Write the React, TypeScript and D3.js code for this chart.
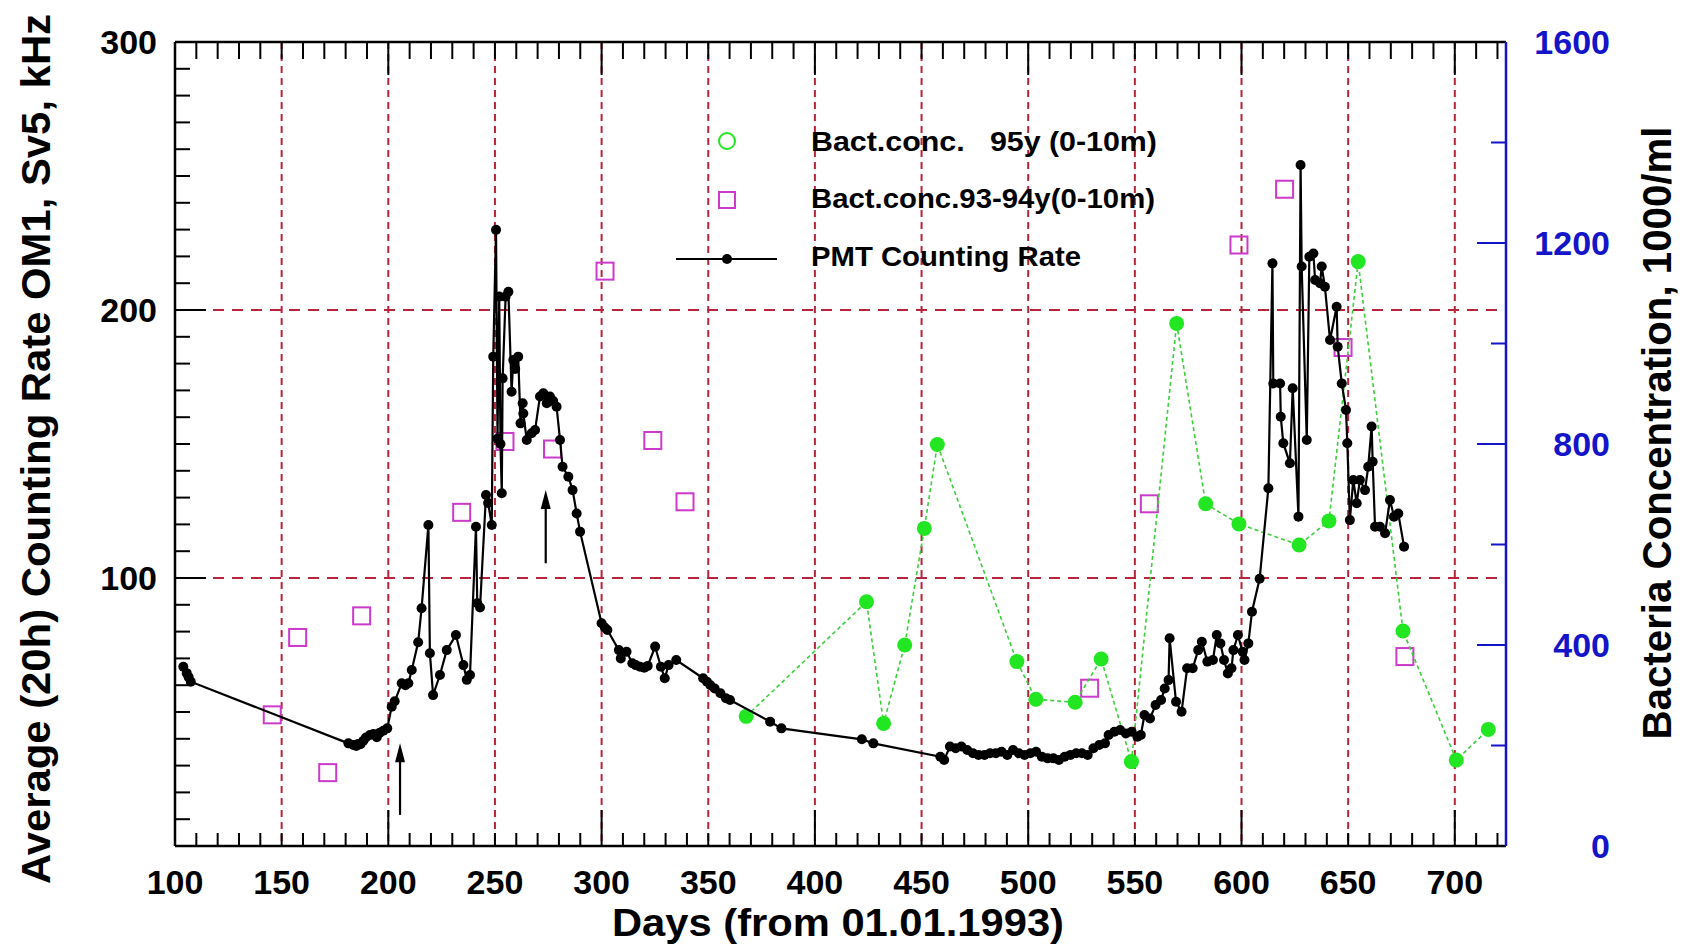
import React from 'react';
import * as d3 from 'd3';

// ---- PMT counting rate (kHz) vs day ----
const pmtDays = [
  103.9, 105.5, 106.4, 107.4,
  181.3, 183.6, 185.0, 185.9, 187.0, 188.3, 189.5, 191.4, 193.0, 194.6, 196.0, 197.7, 199.5,
  201.6, 203.0, 206.3, 208.0, 209.4, 211.0, 214.0, 215.6, 218.8, 219.5, 221.0, 224.2, 227.4, 231.7, 235.2, 236.8, 238.3, 241.1, 241.7, 243.0, 245.8, 246.8, 248.5,
  249.2, 250.5, 251.2, 252.0, 252.6, 253.2, 253.6, 255.0, 256.3, 257.8, 258.6, 259.5, 260.9, 262.0, 263.0, 263.3, 264.9, 267.2, 268.8, 271.1, 272.7, 274.3, 275.8, 277.3, 278.9, 280.5, 281.7, 284.4, 286.4, 288.3, 289.9,
  300.0, 301.5, 302.7, 308.1, 309.0, 311.7, 314.4, 316.0, 318.0, 320.0, 321.6, 325.1, 327.8, 329.6, 331.4, 335.0,
  347.6, 349.4, 351.0, 353.0, 355.7, 358.3, 360.2, 379.0, 384.3, 422.0, 427.4,
  458.8, 460.6, 463.3, 466.0, 468.7, 471.4, 474.1, 476.7, 479.5, 482.1, 484.8, 487.5, 490.2, 492.9, 495.6, 498.3, 501.0, 503.7, 506.4, 509.1, 511.8, 514.4, 517.1, 519.8, 522.5, 525.2, 527.9, 530.6, 533.3, 536.0, 537.7, 540.4, 543.1, 545.8, 548.5, 551.2,
  552.8, 554.5, 557.1, 559.7, 562.3, 564.0, 565.8, 566.3, 569.3, 571.9, 574.5, 577.1, 579.7, 581.4, 584.0, 586.6, 588.4, 590.1, 591.8, 593.6, 595.3, 596.2, 598.3, 600.5, 601.4, 603.2, 604.9, 608.5,
  612.6, 614.5, 614.9, 618.1, 618.4, 619.6, 622.7, 624.0, 626.7, 627.7, 628.2, 630.6, 631.8, 633.7, 634.5, 636.8, 637.6, 639.1, 641.5, 644.6, 645.1, 647.0, 649.0, 649.6, 650.8, 652.4, 654.0, 655.5, 657.9, 659.4, 661.0, 661.5, 662.6, 664.9, 667.3, 669.6, 671.5, 673.5, 676.2,
];
const pmtRate = [
  66.9, 64.5, 63.0, 61.3,
  38.3, 37.7, 37.3, 38.1, 38.0, 39.3, 40.5, 41.4, 41.8, 40.6, 42.3, 43.0, 43.9,
  52.0, 54.0, 60.7, 60.0, 60.7, 65.7, 76.0, 88.7, 119.8, 71.9, 56.3, 63.8, 73.1, 78.7, 67.5, 62.0, 63.8, 119.1, 90.6, 89.0, 131.0, 128.0, 119.8,
  182.6, 229.9, 152.0, 205.0, 150.0, 131.6, 174.5, 205.0, 206.8, 169.5, 181.3, 178.0, 182.6, 157.7, 165.2, 161.4, 151.5, 154.0, 155.2, 167.7, 168.9, 165.2, 167.7, 166.0, 163.9, 151.5, 141.5, 137.8, 132.8, 124.1, 117.3,
  83.1, 81.5, 80.6, 73.1, 70.0, 72.5, 68.2, 67.5, 66.9, 66.5, 67.2, 74.4, 66.9, 62.6, 67.5, 69.4,
  62.6, 61.3, 60.0, 58.8, 57.0, 55.1, 54.5, 46.4, 43.9, 39.8, 38.3,
  33.3, 32.1, 37.1, 36.5, 37.1, 35.8, 34.6, 34.0, 34.0, 34.6, 34.6, 35.2, 34.0, 35.8, 34.6, 34.0, 34.6, 35.2, 33.3, 32.7, 32.7, 32.1, 33.3, 34.0, 34.6, 34.6, 34.0, 36.5, 37.7, 38.3, 41.4, 42.6, 43.3, 42.0, 42.6, 40.8,
  41.4, 48.9, 47.6, 52.6, 54.5, 58.8, 61.9, 77.5, 53.8, 50.1, 66.3, 66.3, 73.1, 76.2, 68.8, 69.4, 78.7, 75.6, 69.4, 64.4, 66.3, 73.1, 78.7, 72.5, 69.4, 75.6, 87.4, 99.7,
  133.5, 217.4, 172.6, 172.6, 160.2, 150.3, 142.8, 170.8, 122.9, 254.1, 216.2, 151.5, 219.9, 221.1, 211.2, 210.0, 216.2, 208.7, 188.8, 201.2, 186.3, 172.6, 162.7, 150.3, 121.6, 136.6, 127.9, 136.6, 132.8, 141.5, 156.5, 143.4, 119.1, 119.1, 116.7, 129.1, 122.9, 124.1, 111.7,
];

// ---- Bacteria concentration 1995 (0-10 m), 1000/ml ----
const bact95Days = [367.8, 424.2, 432.2, 442.1, 451.3, 457.4, 494.7, 503.6, 522.0, 534.2, 548.4, 569.6, 583.2, 598.8, 627.0, 641.0, 654.7, 675.7, 700.7, 715.7];
const bact95Conc = [258, 486, 244, 400, 632, 799, 367, 292, 286, 372, 168, 1040, 681, 641, 599, 647, 1163, 428, 171, 232];

// ---- Bacteria concentration 1993-94 (0-10 m), 1000/ml ----
const bact9394Days = [145.6, 157.5, 171.6, 187.5, 234.4, 254.7, 277.0, 301.6, 324.0, 339.1, 528.8, 556.8, 598.8, 620.2, 647.6, 676.6];
const bact9394Conc = [261, 415, 146, 458, 664, 805, 790, 1144, 807, 685, 314, 681, 1196, 1307, 992, 377];

// ---- axes ----
const xTickLabels = [100, 150, 200, 250, 300, 350, 400, 450, 500, 550, 600, 650, 700];
const leftTickLabels = [100, 200, 300];
const rightTickLabels = [0, 400, 800, 1200, 1600];

// ---- arrow annotations (day, from rate, to rate) ----
const arrowDays = [205.5, 273.8];
const arrowFrom = [11.6, 105.5];
const arrowTo = [38.3, 132.8];

const FONT = 'Liberation Sans, Arial, Helvetica, sans-serif';
const GRID = '#b8243c';
const GREEN_LINE = '#3ccf3c';
const GREEN = '#22e622';
const MAGENTA = '#cc3acc';
const BLUE = '#1414c8';

export default function App() {
  const W = 1681, H = 944;
  const L = 175, R = 1506, T = 42, B = 846;
  const x = d3.scaleLinear().domain([100, 724]).range([L, R]);
  const yL = d3.scaleLinear().domain([0, 300]).range([B, T]);
  const yR = d3.scaleLinear().domain([0, 1600]).range([B, T]);

  const pmt = pmtDays.map((d, i) => [d, pmtRate[i]] as [number, number]);
  const b95 = bact95Days.map((d, i) => [d, bact95Conc[i]] as [number, number]);
  const b9394 = bact9394Days.map((d, i) => [d, bact9394Conc[i]] as [number, number]);

  const pmtLine = d3.line<[number, number]>().x(d => x(d[0])).y(d => yL(d[1]))(pmt) || '';
  const b95Line = d3.line<[number, number]>().x(d => x(d[0])).y(d => yR(d[1]))(b95) || '';

  const xMinor = d3.range(110, 724, 10);
  const leftMinor = d3.range(10, 300, 10);
  const rightMinor = d3.range(200, 1600, 200);
  const xGrid = d3.range(150, 701, 50);
  const yGrid = [100, 200];

  return (
    <svg width={W} height={H} style={{ position: 'absolute', left: 0, top: 0, background: '#fff' }} fontFamily={FONT}>
      <rect x={0} y={0} width={W} height={H} fill="#fff" />

      {/* grid */}
      {xGrid.map(d => (
        <line key={'gx' + d} x1={x(d)} x2={x(d)} y1={T} y2={B} stroke={GRID} strokeWidth={2} strokeDasharray="7 5" />
      ))}
      {yGrid.map(v => (
        <line key={'gy' + v} x1={L} x2={R} y1={yL(v)} y2={yL(v)} stroke={GRID} strokeWidth={2} strokeDasharray="11 8" />
      ))}

      {/* bottom / top ticks */}
      {xMinor.map(d => {
        const major = d % 100 === 0;
        return (
          <g key={'xt' + d}>
            <line x1={x(d)} x2={x(d)} y1={B} y2={B - (major ? 36 : 13)} stroke="#000" strokeWidth={2} />
            <line x1={x(d)} x2={x(d)} y1={T} y2={T + (major ? 33 : 17)} stroke="#000" strokeWidth={2} />
          </g>
        );
      })}
      {/* left ticks */}
      {leftMinor.map(v => {
        const major = v % 100 === 0;
        return <line key={'lt' + v} x1={L} x2={L + (major ? 31 : 15)} y1={yL(v)} y2={yL(v)} stroke="#000" strokeWidth={2} />;
      })}
      {/* right ticks */}
      {rightMinor.map(v => {
        const major = v % 400 === 0;
        return <line key={'rt' + v} x1={R} x2={R - (major ? 29 : 15)} y1={yR(v)} y2={yR(v)} stroke={BLUE} strokeWidth={2} />;
      })}

      {/* bacteria 93-94 */}
      {b9394.map((d, i) => (
        <rect key={'sq' + i} x={x(d[0]) - 8.5} y={yR(d[1]) - 8.5} width={17} height={17} fill="none" stroke={MAGENTA} strokeWidth={2} />
      ))}

      {/* bacteria 95 */}
      <path d={b95Line} fill="none" stroke={GREEN_LINE} strokeWidth={1.6} strokeDasharray="4 3" />
      {b95.map((d, i) => (
        <circle key={'g' + i} cx={x(d[0])} cy={yR(d[1])} r={7.5} fill={GREEN} />
      ))}

      {/* PMT */}
      <path d={pmtLine} fill="none" stroke="#000" strokeWidth={2.2} />
      {pmt.map((d, i) => (
        <circle key={'p' + i} cx={x(d[0])} cy={yL(d[1])} r={5} fill="#000" />
      ))}

      {/* arrows */}
      {arrowDays.map((d, i) => {
        const ax = x(d);
        const tip = yL(arrowTo[i]);
        const base = yL(arrowFrom[i]);
        return (
          <g key={'ar' + i}>
            <line x1={ax} x2={ax} y1={base} y2={tip + 10} stroke="#000" strokeWidth={2.2} />
            <path d={`M${ax},${tip} L${ax - 5},${tip + 19} L${ax + 5},${tip + 19} Z`} fill="#000" />
          </g>
        );
      })}

      {/* frame */}
      <line x1={L} x2={R} y1={T} y2={T} stroke="#000" strokeWidth={2.5} />
      <line x1={L} x2={R} y1={B} y2={B} stroke="#000" strokeWidth={2.5} />
      <line x1={L} x2={L} y1={T} y2={B} stroke="#000" strokeWidth={2.5} />
      <line x1={R} x2={R} y1={T} y2={B} stroke={BLUE} strokeWidth={2.5} />

      {/* tick labels */}
      {xTickLabels.map(d => (
        <text key={'xl' + d} x={x(d)} y={893.5} textAnchor="middle" fontSize={34} fontWeight="bold" fill="#000">{d}</text>
      ))}
      {leftTickLabels.map(v => (
        <text key={'ll' + v} x={157} y={yL(v) + 12} textAnchor="end" fontSize={34} fontWeight="bold" fill="#000">{v}</text>
      ))}
      {rightTickLabels.map(v => (
        <text key={'rl' + v} x={1610} y={yR(v) + 12} textAnchor="end" fontSize={34} fontWeight="bold" fill={BLUE}>{v}</text>
      ))}

      {/* axis titles */}
      <text x={838} y={936} textAnchor="middle" fontSize={38} fontWeight="bold" textLength={452} lengthAdjust="spacingAndGlyphs" fill="#000">Days (from 01.01.1993)</text>
      <text transform="translate(50,449) rotate(-90)" textAnchor="middle" fontSize={40} fontWeight="bold" textLength={870} lengthAdjust="spacingAndGlyphs" fill="#000">Average (20h) Counting Rate OM1, Sv5, kHz</text>
      <text transform="translate(1671,433) rotate(-90)" textAnchor="middle" fontSize={40} fontWeight="bold" textLength={613} lengthAdjust="spacingAndGlyphs" fill="#000">Bacteria Concentration, 1000/ml</text>

      {/* legend */}
      <circle cx={727} cy={141} r={8} fill="none" stroke={GREEN} strokeWidth={2} />
      <text x={811} y={151} fontSize={28} fontWeight="bold" style={{ whiteSpace: 'pre' }} textLength={346} lengthAdjust="spacingAndGlyphs">{'Bact.conc.   95y (0-10m)'}</text>
      <rect x={719} y={192} width={16} height={16} fill="none" stroke={MAGENTA} strokeWidth={2} />
      <text x={811} y={208} fontSize={28} fontWeight="bold" textLength={344} lengthAdjust="spacingAndGlyphs">Bact.conc.93-94y(0-10m)</text>
      <line x1={676} x2={777} y1={259} y2={259} stroke="#000" strokeWidth={2} />
      <circle cx={727} cy={259} r={5} fill="#000" />
      <text x={811} y={266} fontSize={28} fontWeight="bold" textLength={270} lengthAdjust="spacingAndGlyphs">PMT Counting Rate</text>
    </svg>
  );
}
